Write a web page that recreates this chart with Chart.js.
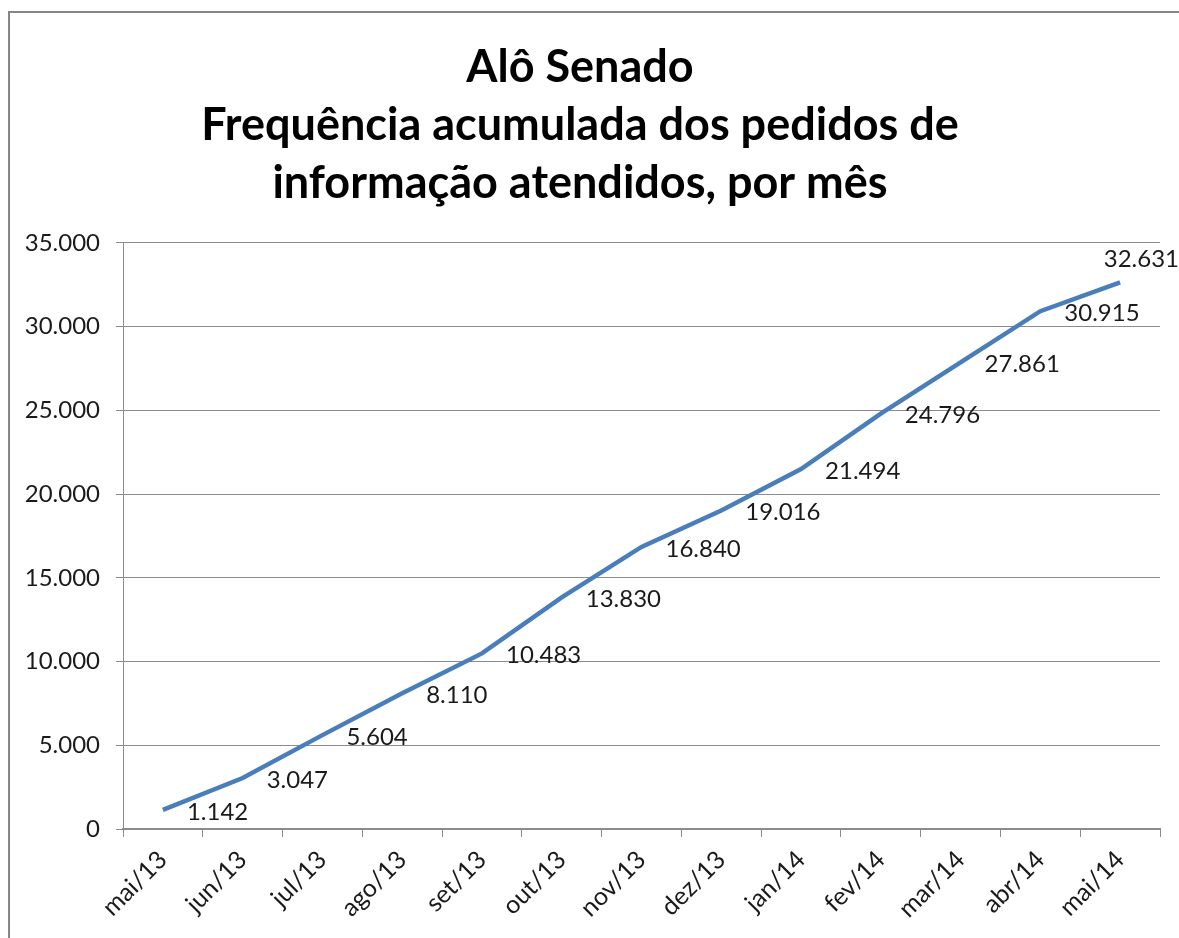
<!DOCTYPE html>
<html>
<head>
<meta charset="utf-8">
<script src="https://cdn.jsdelivr.net/npm/chart.js@4.4.1/dist/chart.umd.min.js"></script>
<style>
  html, body { margin: 0; padding: 0; background: #fff; }
  #wrap { width: 1179px; height: 938px; position: relative; }
</style>
</head>
<body>
<div id="wrap"><canvas id="chart"></canvas></div>
<script>
const months = ['mai/13', 'jun/13', 'jul/13', 'ago/13', 'set/13', 'out/13', 'nov/13',
    'dez/13', 'jan/14', 'fev/14', 'mar/14', 'abr/14', 'mai/14'];
const pedidos = [1142, 3047, 5604, 8110, 10483, 13830, 16840, 19016, 21494, 24796, 27861, 30915, 32631];
const titleLines = ['Alô Senado', 'Frequência acumulada dos pedidos de', 'informação atendidos, por mês'];

const fontFamily = 'Lato, "Open Sans", sans-serif';

function fmt(n) {
    return String(n).replace(/\B(?=(\d{3})+(?!\d))/g, '.');
}

// gray frame round the chart, as in the spreadsheet export
const framePlugin = {
    id: 'frame',
    beforeDraw(chart) {
        const ctx = chart.ctx;
        ctx.save();
        ctx.fillStyle = '#ffffff';
        ctx.fillRect(0, 0, chart.width, chart.height);
        ctx.strokeStyle = '#868686';
        ctx.lineWidth = 2;
        ctx.strokeRect(9, 12, chart.width + 20, chart.height + 20);
        ctx.restore();
    }
};

// value labels to the right of each point
const valueLabels = {
    id: 'valueLabels',
    afterDatasetsDraw(chart) {
        const ctx = chart.ctx;
        const meta = chart.getDatasetMeta(0);
        ctx.save();
        ctx.font = '24px ' + fontFamily;
        ctx.fillStyle = '#1a1a1a';
        ctx.textBaseline = 'middle';
        meta.data.forEach(function (pt, i) {
            const text = fmt(chart.data.datasets[0].data[i]);
            const w = ctx.measureText(text).width;
            let x = pt.x + 24;
            let y = pt.y + 2;
            if (x + w > chart.width) {
                x = chart.width - w;
                y = pt.y - 23;
            }
            ctx.textAlign = 'left';
            ctx.fillText(text, x, y);
        });
        ctx.restore();
    }
};

new Chart(document.getElementById('chart'), {
    type: 'line',
    data: {
        labels: months,
        datasets: [{
            label: 'Pedidos atendidos',
            data: pedidos,
            borderColor: '#4a7ebb',
            borderWidth: 4.5,
            pointRadius: 0,
            tension: 0,
            fill: false
        }]
    },
    options: {
        responsive: true,
        maintainAspectRatio: false,
        animation: false,
        layout: { padding: { left: 0, right: 19, top: 0, bottom: 0 } },
        plugins: {
            legend: { display: false },
            tooltip: { enabled: false },
            title: {
                display: true,
                text: titleLines,
                color: '#000',
                font: { family: fontFamily, size: 45, weight: 'bold', lineHeight: 1.28 },
                padding: { top: 39, bottom: 31 }
            }
        },
        scales: {
            x: {
                offset: true,
                grid: {
                    offset: true,
                    drawOnChartArea: false,
                    drawTicks: true,
                    tickLength: 8,
                    color: '#8c8c8c'
                },
                border: { color: '#8c8c8c', width: 2 },
                ticks: {
                    color: '#1a1a1a',
                    font: { family: fontFamily, size: 25 },
                    minRotation: 45,
                    maxRotation: 45,
                    padding: 8,
                    autoSkip: false
                },
                afterFit(scale) { scale.height = 109; }
            },
            y: {
                min: 0,
                max: 35000,
                grid: {
                    color: '#8c8c8c',
                    tickLength: 7,
                    lineWidth: 1
                },
                border: { color: '#8c8c8c', width: 1 },
                ticks: {
                    stepSize: 5000,
                    color: '#1a1a1a',
                    font: { family: fontFamily, size: 24 },
                    padding: 16,
                    callback: function (v) { return fmt(v); }
                },
                afterFit(scale) { scale.width = 123; }
            }
        }
    },
    plugins: [framePlugin, valueLabels]
});
</script>
</body>
</html>
